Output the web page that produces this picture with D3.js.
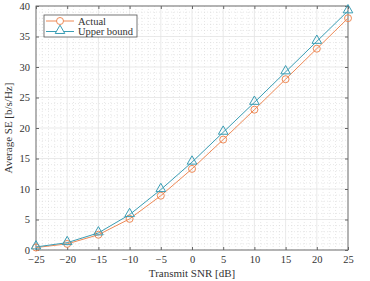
<!DOCTYPE html>
<html>
<head>
<meta charset="utf-8">
<script src="https://cdn.jsdelivr.net/npm/d3@7"></script>
<style>
body{margin:0;background:#fff;}
svg text{font-family:"Liberation Serif","DejaVu Serif",serif !important;fill:#333;}
</style>
</head>
<body>
<div id="canvas"></div>
<script>
var snr = [-25,-20,-15,-10,-5,0,5,10,15,20,25];
var actual = [0.4,1.0,2.5,5.1,8.9,13.3,18.1,23.0,28.0,33.0,38.0];
var upper = [0.5,1.2,2.8,5.8,9.9,14.4,19.3,24.2,29.2,34.2,39.2];
var xTicks = [-25,-20,-15,-10,-5,0,5,10,15,20,25];
var yTicks = [0,5,10,15,20,25,30,35,40];

var W = 370, H = 281;
var m = {t:6,r:22,b:31,l:36},
    w = W - m.l - m.r,
    h = H - m.t - m.b;

var svg = d3.select('#canvas').append('svg')
    .attr('width', W).attr('height', H)
    .attr('font-family','Liberation Serif');
var plot = svg.append('g').attr('transform','translate('+m.l+','+m.t+')');

var x = d3.scaleLinear().domain([-25,25]).range([0,w]);
var y = d3.scaleLinear().domain([0,40]).range([h,0]);

// minor grid
plot.append('g').selectAll('line').data(d3.range(-25,26,1).filter(function(d){return d%5!==0;}))
  .enter().append('line')
  .attr('x1',x).attr('x2',x).attr('y1',0).attr('y2',h)
  .style('stroke','#d6d6d6').style('stroke-width',0.6).style('stroke-dasharray','1,2');
plot.append('g').selectAll('line').data(d3.range(0,41,1).filter(function(d){return d%5!==0;}))
  .enter().append('line')
  .attr('y1',y).attr('y2',y).attr('x1',0).attr('x2',w)
  .style('stroke','#d6d6d6').style('stroke-width',0.6).style('stroke-dasharray','1,2');
// major grid
plot.append('g').selectAll('line').data(xTicks).enter().append('line')
  .attr('x1',x).attr('x2',x).attr('y1',0).attr('y2',h)
  .style('stroke','#e3e3e3').style('stroke-width',0.8);
plot.append('g').selectAll('line').data(yTicks).enter().append('line')
  .attr('y1',y).attr('y2',y).attr('x1',0).attr('x2',w)
  .style('stroke','#e3e3e3').style('stroke-width',0.8);

// axes
function styleAxis(g){
  g.attr('font-family','Liberation Serif');
  g.select('.domain').remove();
  g.selectAll('.tick line').style('stroke','#666');
  g.selectAll('.tick text').style('font-size','10.5px').style('fill','#333');
}
plot.append('g').attr('transform','translate(0,'+h+')')
  .call(d3.axisBottom(x).tickValues(xTicks).tickSize(-3).tickPadding(6)).call(styleAxis);
plot.append('g').call(d3.axisTop(x).tickValues(xTicks).tickSize(-3).tickFormat('')).call(styleAxis);
plot.append('g')
  .call(d3.axisLeft(y).tickValues(yTicks).tickSize(-3).tickPadding(6)).call(styleAxis);
plot.append('g').attr('transform','translate('+w+',0)')
  .call(d3.axisRight(y).tickValues(yTicks).tickSize(-3).tickFormat('')).call(styleAxis);

plot.append('rect').attr('width',w).attr('height',h)
  .style('fill','none').style('stroke','#666').style('stroke-width',0.9);

var cA = '#ee8a57', cU = '#3a9db4';
var line = d3.line().x(function(d){return x(d[0]);}).y(function(d){return y(d[1]);});
var dA = snr.map(function(s,i){return [s,actual[i]];});
var dU = snr.map(function(s,i){return [s,upper[i]];});

plot.append('path').datum(dA).attr('d',line)
  .style('fill','none').style('stroke',cA).style('stroke-width',1);
plot.append('path').datum(dU).attr('d',line)
  .style('fill','none').style('stroke',cU).style('stroke-width',1);

var tri = d3.symbol().type(d3.symbolTriangle).size(40);
plot.selectAll('.mA').data(dA).enter().append('circle')
  .attr('cx',function(d){return x(d[0]);}).attr('cy',function(d){return y(d[1]);})
  .attr('r',3.5).style('fill','none').style('stroke',cA).style('stroke-width',1);
plot.selectAll('.mU').data(dU).enter().append('path')
  .attr('d',tri)
  .attr('transform',function(d){return 'translate('+x(d[0])+','+(y(d[1])-0.8)+')';})
  .style('fill','none').style('stroke',cU).style('stroke-width',1);

// legend
var lg = plot.append('g').attr('transform','translate(8,9)');
lg.append('rect').attr('width',93).attr('height',22)
  .style('fill','#fff').style('stroke','#555').style('stroke-width',0.8);
var items = [['Actual',cA,'c'],['Upper bound',cU,'t']];
items.forEach(function(it,i){
  var yy = 6 + i*10.5;
  lg.append('line').attr('x1',2).attr('x2',30).attr('y1',yy).attr('y2',yy)
    .style('stroke',it[1]).style('stroke-width',1);
  if(it[2]==='c'){
    lg.append('circle').attr('cx',16).attr('cy',yy).attr('r',3.5)
      .style('fill','#fff').style('stroke',it[1]);
  } else {
    lg.append('path').attr('d',tri).attr('transform','translate(16,'+(yy-0.8)+')')
      .style('fill','#fff').style('stroke',it[1]);
  }
  lg.append('text').attr('x',34).attr('y',yy+3.5).text(it[0]).style('font-size','10.5px');
});

// labels
svg.append('text').attr('x',m.l+w/2).attr('y',H-4).attr('text-anchor','middle')
  .style('font-size','11px').text('Transmit SNR [dB]');
svg.append('text').attr('transform','translate(12,'+(m.t+h/2)+') rotate(-90)')
  .attr('text-anchor','middle').style('font-size','11px').text('Average SE [b/s/Hz]');
</script>
</body>
</html>
